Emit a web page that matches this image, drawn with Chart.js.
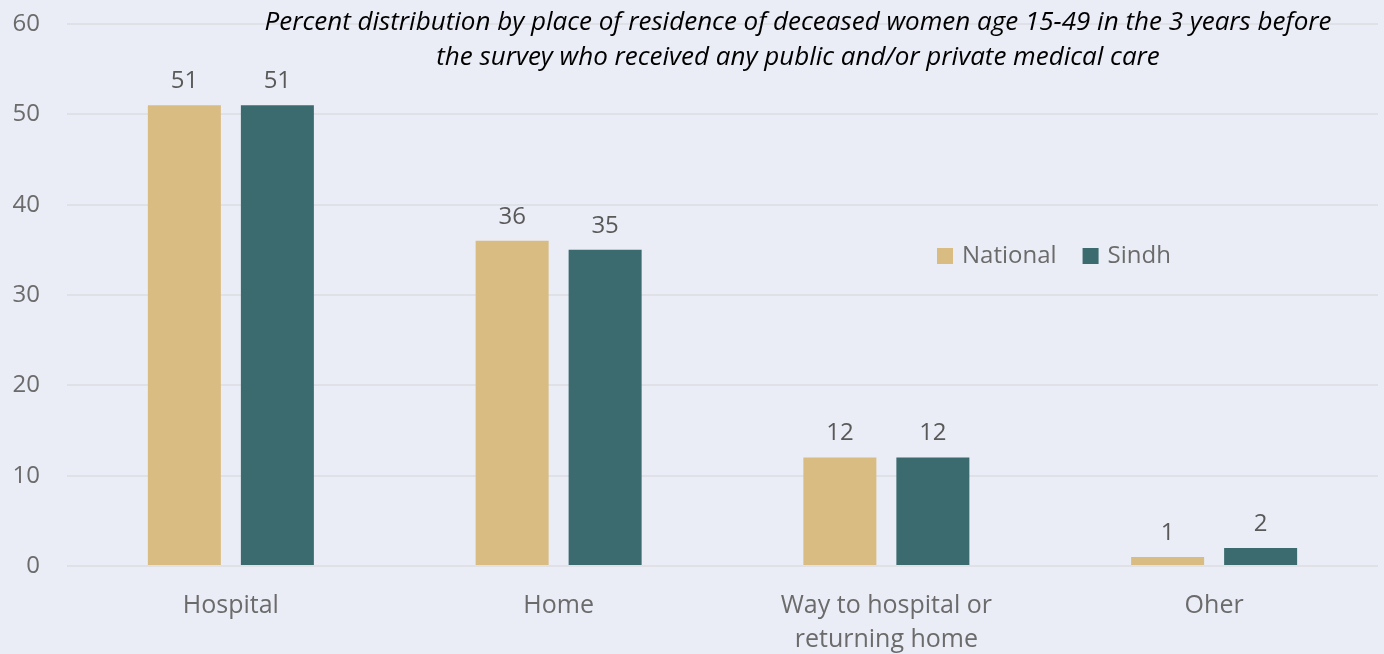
<!DOCTYPE html>
<html>
<head>
<meta charset="utf-8">
<script src="https://cdn.jsdelivr.net/npm/chart.js@4.4.1/dist/chart.umd.min.js"></script>
<style>
  html, body { margin: 0; padding: 0; background: #eaedf6; }
  #wrap { width: 1384px; height: 654px; position: relative; }
</style>
</head>
<body>
<div id="wrap"><canvas id="chart" width="1384" height="654"></canvas></div>
<script>
// chart values
var categories = ['Hospital', 'Home', ['Way to hospital or', 'returning home'], 'Oher'];
var nationalValues = [51, 36, 12, 1];
var sindhValues = [51, 35, 12, 2];
var yTicks = [0, 10, 20, 30, 40, 50, 60];
var titleLines = [
  'Percent distribution by place of residence of deceased women age 15-49 in the 3 years before',
  'the survey who received any public and/or private medical care'
];

var fontFam = '"Open Sans", "Noto Sans", sans-serif';

// value labels on top of each bar
var barLabels = {
  id: 'barLabels',
  afterDatasetsDraw: function(chart) {
    var ctx = chart.ctx;
    ctx.save();
    ctx.font = '24px ' + fontFam;
    ctx.fillStyle = '#595959';
    ctx.textAlign = 'center';
    ctx.textBaseline = 'middle';
    chart.data.datasets.forEach(function(ds, i) {
      chart.getDatasetMeta(i).data.forEach(function(bar, j) {
        ctx.fillText(ds.data[j], bar.x, bar.y - 24);
      });
    });
    ctx.restore();
  }
};

// italic title and legend sitting inside the plot
var overlay = {
  id: 'overlay',
  afterDraw: function(chart) {
    var ctx = chart.ctx;
    ctx.save();
    ctx.font = 'italic 26px ' + fontFam;
    ctx.fillStyle = '#000000';
    ctx.textAlign = 'center';
    ctx.textBaseline = 'middle';
    ctx.fillText(titleLines[0], 798, 23, 1100);
    ctx.fillText(titleLines[1], 798, 58, 742);

    ctx.font = '24px ' + fontFam;
    ctx.textAlign = 'left';
    var x = 937;
    chart.data.datasets.forEach(function(ds) {
      ctx.fillStyle = ds.backgroundColor;
      ctx.fillRect(x, 248, 16, 16);
      ctx.fillStyle = '#6b6b6b';
      ctx.fillText(ds.label, x + 25, 256);
      x += 25 + ctx.measureText(ds.label).width + 26;
    });
    ctx.restore();
  }
};

new Chart(document.getElementById('chart'), {
  type: 'bar',
  data: {
    labels: categories,
    datasets: [
      { label: 'National', data: nationalValues, backgroundColor: '#d9bc82' },
      { label: 'Sindh', data: sindhValues, backgroundColor: '#3b6b6e' }
    ]
  },
  options: {
    responsive: false,
    devicePixelRatio: 1,
    animation: false,
    layout: { padding: { top: 24, right: 6, left: 0, bottom: 0 } },
    datasets: { bar: { categoryPercentage: 0.5675, barPercentage: 0.785 } },
    plugins: { legend: { display: false }, title: { display: false }, tooltip: { enabled: false } },
    scales: {
      x: {
        grid: { display: false },
        border: { display: false },
        ticks: { color: '#6b6b6b', font: { size: 25, family: fontFam, lineHeight: 1.36 }, padding: 15 },
        afterFit: function(axis) { axis.height = 88; axis.paddingLeft = 0; axis.paddingRight = 0; }
      },
      y: {
        min: 0,
        max: 60,
        afterBuildTicks: function(axis) {
          axis.ticks = yTicks.map(function(v) { return { value: v }; });
        },
        grid: { color: '#e0e0e7', lineWidth: 2, drawTicks: false },
        border: { display: false },
        ticks: { color: '#6b6b6b', font: { size: 24, family: fontFam }, padding: 27 },
        afterFit: function(axis) { axis.width = 67; axis.paddingTop = 0; axis.paddingBottom = 0; }
      }
    }
  },
  plugins: [barLabels, overlay]
});
</script>
</body>
</html>
